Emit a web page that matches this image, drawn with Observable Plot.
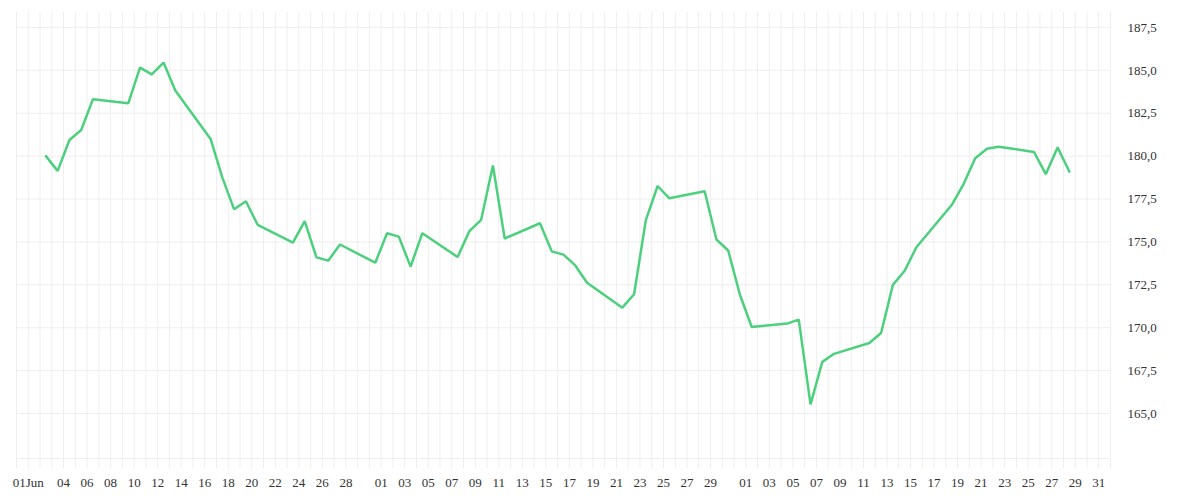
<!DOCTYPE html>
<html>
<head>
<meta charset="utf-8">
<script src="https://cdn.jsdelivr.net/npm/d3@7"></script>
<script src="https://cdn.jsdelivr.net/npm/@observablehq/plot@0.6"></script>
<style>
  html, body { margin: 0; padding: 0; background: #fff; }
  #chart svg { display: block; }
</style>
</head>
<body>
<div id="chart"></div>
<script>
// Trading days (2014) and closing values
const dates = [
  "2014-06-02","2014-06-03","2014-06-04","2014-06-05","2014-06-06",
  "2014-06-09","2014-06-10","2014-06-11","2014-06-12","2014-06-13",
  "2014-06-16","2014-06-17","2014-06-18","2014-06-19","2014-06-20",
  "2014-06-23","2014-06-24","2014-06-25","2014-06-26","2014-06-27",
  "2014-06-30","2014-07-01","2014-07-02","2014-07-03","2014-07-04",
  "2014-07-07","2014-07-08","2014-07-09","2014-07-10","2014-07-11",
  "2014-07-14","2014-07-15","2014-07-16","2014-07-17","2014-07-18",
  "2014-07-21","2014-07-22","2014-07-23","2014-07-24","2014-07-25",
  "2014-07-28","2014-07-29","2014-07-30","2014-07-31","2014-08-01",
  "2014-08-04","2014-08-05","2014-08-06","2014-08-07","2014-08-08",
  "2014-08-11","2014-08-12","2014-08-13","2014-08-14","2014-08-15",
  "2014-08-18","2014-08-19","2014-08-20","2014-08-21","2014-08-22",
  "2014-08-25","2014-08-26","2014-08-27","2014-08-28"
];
const values = [
  180.0, 179.14, 180.94, 181.52, 183.32,
  183.08, 185.16, 184.76, 185.45, 183.83,
  181.0, 178.75, 176.9, 177.37, 176.0,
  174.96, 176.21, 174.1, 173.91, 174.85,
  173.79, 175.51, 175.31, 173.56, 175.51,
  174.12, 175.63, 176.29, 179.45, 175.2,
  176.09, 174.45, 174.26, 173.63, 172.62,
  171.17, 171.95, 176.27, 178.26, 177.54,
  177.95, 175.14, 174.5, 171.92, 170.04,
  170.24, 170.47, 165.53, 168.01, 168.48,
  169.11, 169.69, 172.5, 173.32, 174.69,
  177.15, 178.36, 179.88, 180.43, 180.55,
  180.24, 178.95, 180.51, 179.1
];
// Axis tick labels
const xLabelDates = [
  "2014-06-01","2014-06-04","2014-06-06","2014-06-08","2014-06-10","2014-06-12","2014-06-14",
  "2014-06-16","2014-06-18","2014-06-20","2014-06-22","2014-06-24","2014-06-26","2014-06-28",
  "2014-07-01","2014-07-03","2014-07-05","2014-07-07","2014-07-09","2014-07-11","2014-07-13",
  "2014-07-15","2014-07-17","2014-07-19","2014-07-21","2014-07-23","2014-07-25","2014-07-27","2014-07-29",
  "2014-08-01","2014-08-03","2014-08-05","2014-08-07","2014-08-09","2014-08-11","2014-08-13",
  "2014-08-15","2014-08-17","2014-08-19","2014-08-21","2014-08-23","2014-08-25","2014-08-27",
  "2014-08-29","2014-08-31"
];
const yTicks = [165, 167.5, 170, 172.5, 175, 177.5, 180, 182.5, 185, 187.5];
const xDomain = ["2014-05-31", "2014-09-01"];
const yDomain = [162.38, 188.37];

const parseDay = s => new Date(s + "T00:00");
const data = dates.map((d, i) => ({date: new Date(d + "T12:00"), value: values[i]}));
const labelTicks = xLabelDates.map(parseDay);
const dayTicks = d3.timeDay.range(parseDay(xDomain[0]), d3.timeDay.offset(parseDay(xDomain[1]), 1));

const fmtX = d => (d.getMonth() === 5 && d.getDate() === 1) ? "01Jun" : d3.timeFormat("%d")(d);
const fmtY = v => v.toFixed(1).replace(".", ",");

const grid = "#eeeeee";
const textColor = "#333333";

const chart = Plot.plot({
  width: 1200,
  height: 500,
  marginTop: 12,
  marginBottom: 42,
  marginLeft: 16,
  marginRight: 90,
  style: {fontFamily: "'Liberation Serif', serif", fontSize: "13px", background: "#fff", color: textColor},
  x: {type: "time", domain: xDomain.map(parseDay), axis: null, label: null},
  y: {domain: yDomain, axis: null, label: null},
  marks: [
    Plot.ruleX(dayTicks, {stroke: grid, strokeWidth: 1}),
    Plot.ruleY(yTicks, {stroke: grid, strokeWidth: 1}),
    Plot.ruleY([yDomain[0]], {stroke: grid, strokeWidth: 1}),
    Plot.axisX({ticks: dayTicks, tickSize: 10, stroke: grid, strokeOpacity: 1, tickFormat: () => "", label: null}),
    Plot.axisX({ticks: labelTicks, tickSize: 0, tickPadding: 19, tickFormat: fmtX, fill: textColor, fontSize: 13, label: null}),
    Plot.axisY({anchor: "right", ticks: yTicks, tickSize: 0, tickPadding: 17, tickFormat: fmtY, fill: textColor, fontSize: 13, label: null}),
    Plot.line(data, {x: "date", y: "value", stroke: "#4cd07d", strokeWidth: 2.5, strokeLinejoin: "miter"})
  ]
});
document.getElementById("chart").append(chart);
</script>
</body>
</html>
